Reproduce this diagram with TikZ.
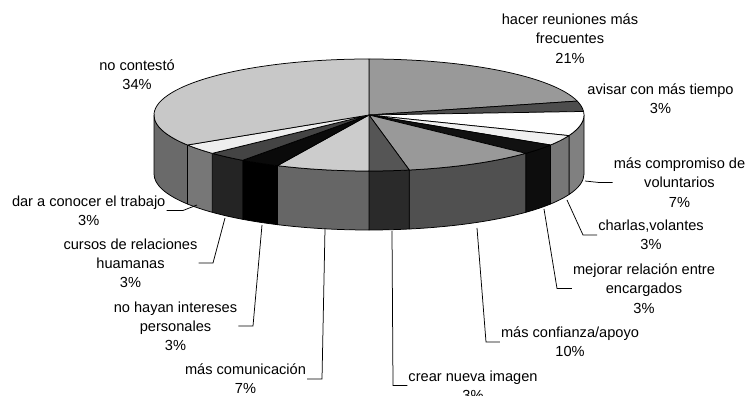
\documentclass[tikz,border=0pt]{standalone}
\usepackage{fontspec}
\setmainfont{Liberation Sans}
\usetikzlibrary{calc}
\definecolor{cA}{HTML}{999999}
\definecolor{cB}{HTML}{4D4D4D}
\definecolor{cC}{HTML}{FFFFFF}
\definecolor{cD}{HTML}{F0F0F0}
\definecolor{cE}{HTML}{111111}
\definecolor{cF}{HTML}{999999}
\definecolor{cG}{HTML}{555555}
\definecolor{cH}{HTML}{CCCCCC}
\definecolor{cI}{HTML}{0A0A0A}
\definecolor{cJ}{HTML}{444444}
\definecolor{cK}{HTML}{EEEEEE}
\definecolor{cL}{HTML}{C8C8C8}
\definecolor{sC}{HTML}{808080}
\definecolor{sD}{HTML}{777777}
\definecolor{sE}{HTML}{0D0D0D}
\definecolor{sF}{HTML}{505050}
\definecolor{sG}{HTML}{2A2A2A}
\definecolor{sH}{HTML}{666666}
\definecolor{sI}{HTML}{000000}
\definecolor{sJ}{HTML}{242424}
\definecolor{sK}{HTML}{777777}
\definecolor{sL}{HTML}{6A6A6A}
\newcommand{\topslice}[3]{\filldraw[face,fill=#3] (C) -- ($(C)+(#1:215pt and 56pt)$) arc[start angle=#1,end angle=#2,x radius=215pt,y radius=56pt] -- cycle;}
\newcommand{\sideface}[3]{\filldraw[face,fill=#3] ($(C)+(#1:215pt and 56pt)$) arc[start angle=#1,end angle=#2,x radius=215pt,y radius=56pt] -- ++(0,-59) arc[start angle=#2,end angle=#1,x radius=215pt,y radius=56pt] -- cycle;}
\tikzset{
  face/.style={draw=black,line width=0.75pt,line join=round},
  lab/.style={font=\fontsize{14.6}{19.2}\selectfont,align=center,inner sep=1pt},
  leader/.style={draw=black,line width=0.75pt}
}
\begin{document}
\begin{tikzpicture}[x=1pt,y=1pt]
\useasboundingbox (0,0) rectangle (747,396);
\coordinate (C) at (369,281);
% side faces (front, visible part)
\sideface{0}{-21.6}{sC}
\sideface{-21.6}{-32.4}{sD}
\sideface{-32.4}{-43.2}{sE}
\sideface{-43.2}{-79.2}{sF}
\sideface{-79.2}{-90}{sG}
\sideface{-90}{-115.2}{sH}
\sideface{-115.2}{-126}{sI}
\sideface{-126}{-136.8}{sJ}
\sideface{-136.8}{-147.6}{sK}
\sideface{-147.6}{-180}{sL}
% top faces
\topslice{90}{14.4}{cA}
\topslice{14.4}{3.6}{cB}
\topslice{3.6}{-21.6}{cC}
\topslice{-21.6}{-32.4}{cD}
\topslice{-32.4}{-43.2}{cE}
\topslice{-43.2}{-79.2}{cF}
\topslice{-79.2}{-90}{cG}
\topslice{-90}{-115.2}{cH}
\topslice{-115.2}{-126}{cI}
\topslice{-126}{-136.8}{cJ}
\topslice{-136.8}{-147.6}{cK}
\topslice{-147.6}{-270}{cL}
% labels
\node[lab] (hacer) at (570,357.5) {hacer reuniones más\\frecuentes\\21\%};
\node[lab] (avisar) at (660.5,297) {avisar con más tiempo\\3\%};
\node[lab] (nocont) at (137,321) {no contestó\\34\%};
\node[lab] (compro) at (679.5,213.5) {más compromiso de\\voluntarios\\7\%};
\node[lab] (charlas) at (651,161) {charlas,volantes\\3\%};
\node[lab] (mejorar) at (644,107.5) {mejorar relación entre\\encargados\\3\%};
\node[lab] (confi) at (570,54) {más confianza/apoyo\\10\%};
\node[lab] (crear) at (473,10.5) {crear nueva imagen\\3\%};
\node[lab] (comun) at (245.5,17) {más comunicación\\7\%};
\node[lab] (nohay) at (175.5,70) {no hayan intereses\\personales\\3\%};
\node[lab] (cursos) at (130.5,133) {cursos de relaciones\\huamanas\\3\%};
\node[lab] (dar) at (88.7,185.5) {dar a conocer el trabajo\\3\%};
% leader end points and elbows
\coordinate (pDar) at (197,191);   \coordinate (eDar) at (183,0);
\coordinate (pCur) at (225,178);   \coordinate (eCur) at (213,0);
\coordinate (pNoh) at (262,171);   \coordinate (eNoh) at (253,0);
\coordinate (pCom) at (325,167);   \coordinate (eCom) at (322,0);
\coordinate (pCre) at (392,165);   \coordinate (eCre) at (393,0);
\coordinate (pCon) at (477,168);   \coordinate (eCon) at (486,0);
\coordinate (pMej) at (544,187);   \coordinate (eMej) at (557,0);
\coordinate (pCha) at (567,196);   \coordinate (eCha) at (583,0);
\coordinate (pCpr) at (585,215);   \coordinate (eCpr) at (599,0);
\draw[leader] (dar.east) -- (dar.east -| eDar) -- (pDar);
\draw[leader] (cursos.east) -- (cursos.east -| eCur) -- (pCur);
\draw[leader] (nohay.east) -- (nohay.east -| eNoh) -- (pNoh);
\draw[leader] (comun.east) -- (comun.east -| eCom) -- (pCom);
\draw[leader] (crear.west) -- (crear.west -| eCre) -- (pCre);
\draw[leader] (confi.west) -- (confi.west -| eCon) -- (pCon);
\draw[leader] (mejorar.west) -- (mejorar.west -| eMej) -- (pMej);
\draw[leader] (charlas.west) -- (charlas.west -| eCha) -- (pCha);
\draw[leader] (compro.west) -- (compro.west -| eCpr) -- (pCpr);
\end{tikzpicture}
\end{document}
